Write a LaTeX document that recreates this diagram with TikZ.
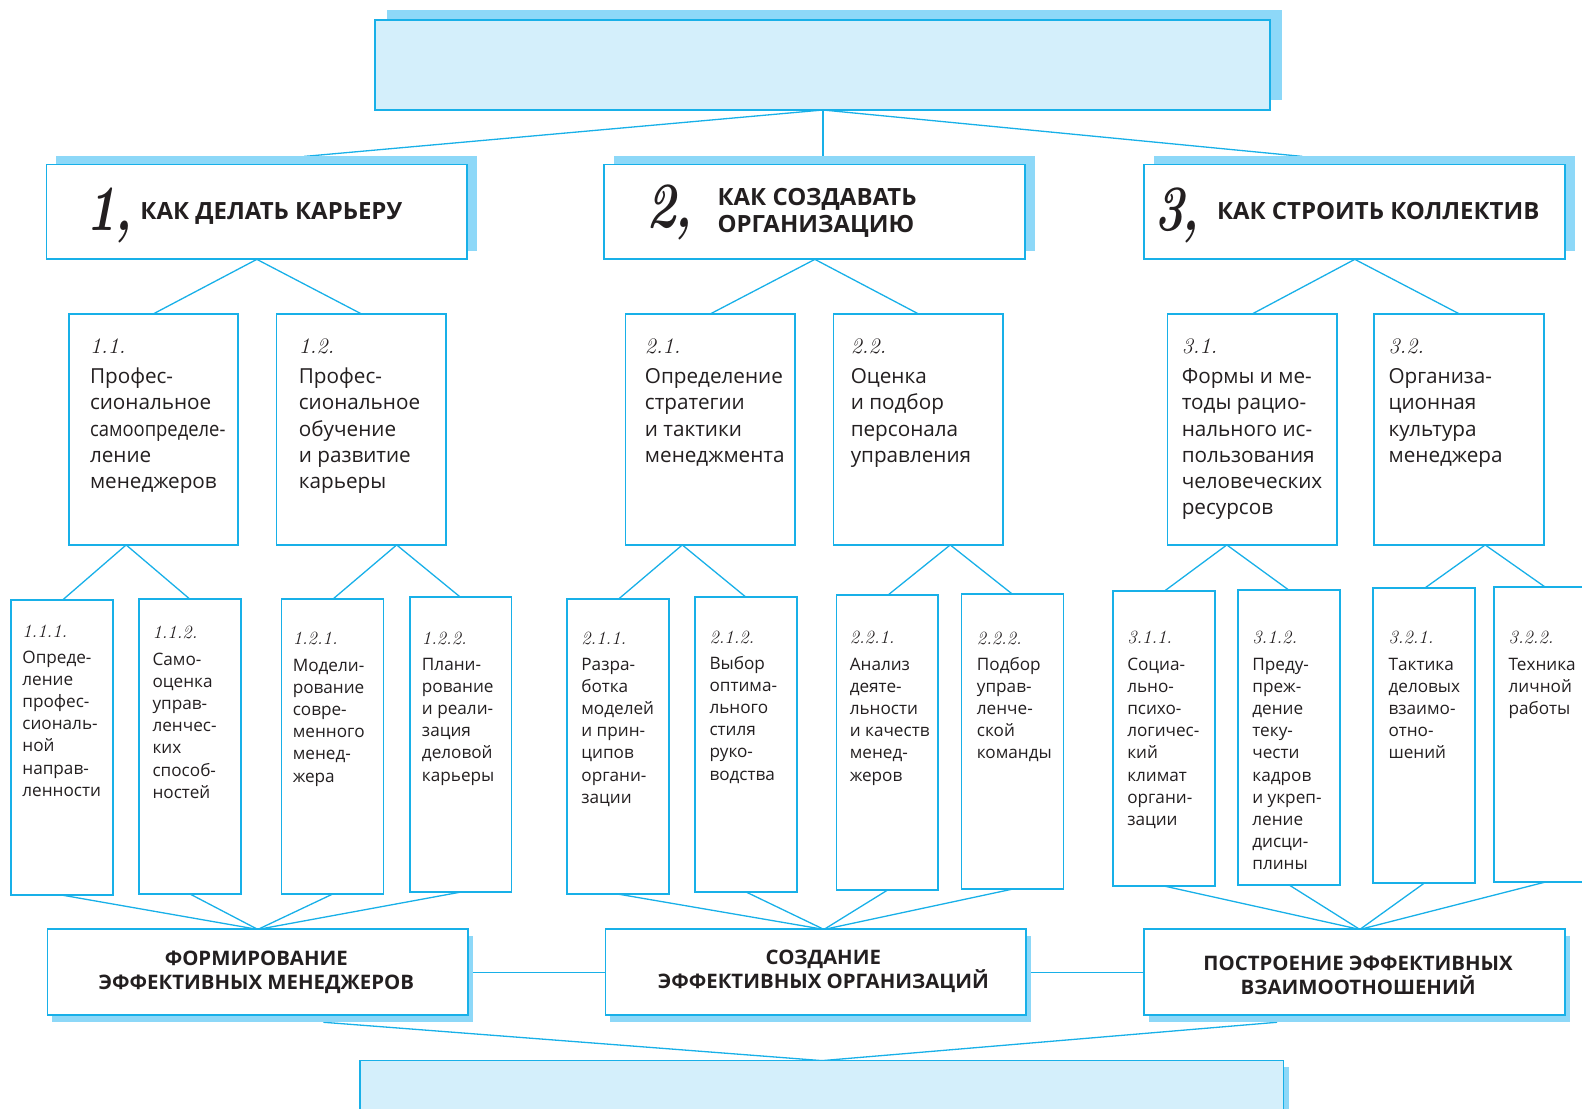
\documentclass[tikz,border=0pt]{standalone}
\usepackage{fontspec}
\usepackage{graphicx}
\usetikzlibrary{calc,shadows}
\newfontfamily\bodyfont{Open Sans}
\newfontfamily\headfont{Open Sans}[FakeStretch=1.01]
\newfontfamily\capfont{Open Sans}[FakeStretch=1.02]
\definecolor{cyanline}{RGB}{24,176,232}
\definecolor{lightfill}{RGB}{212,239,251}
\definecolor{shadowblue}{RGB}{141,216,248}
\definecolor{ink}{RGB}{35,31,32}
\pgfdeclarelayer{bg}
\pgfsetlayers{bg,main}
\tikzset{
  frame/.style={draw=cyanline, line width=1.8pt, fill=white, inner sep=0pt, outer sep=0pt, anchor=north west},
  topshadow/.style={general shadow={fill=shadowblue, shadow xshift=12pt, shadow yshift=10pt}},
  headshadow/.style={general shadow={fill=shadowblue, shadow xshift=10pt, shadow yshift=8pt}},
  footshadow/.style={general shadow={fill=shadowblue, shadow xshift=5pt, shadow yshift=-7pt}},
  finshadow/.style={general shadow={fill=shadowblue, shadow xshift=6pt, shadow yshift=-7pt}},
  headbox/.style={frame, headshadow, minimum width=417pt, minimum height=94pt},
  midbox/.style={frame, minimum width=168pt, minimum height=229pt},
  leafbox/.style={frame, minimum width=101pt, minimum height=292pt},
  footbox/.style={frame, footshadow, minimum width=417pt, minimum height=85pt},
  link/.style={draw=cyanline, line width=1.3pt},
  bignum/.style={inner sep=0pt, anchor=base west, text=ink, font=\rmfamily\bfseries\itshape\fontsize{64}{64}\selectfont},
  headtxt/.style={inner sep=0pt, text=ink, align=left, font=\headfont\bfseries\fontsize{23.5}{27}\selectfont},
  foottxt/.style={inner sep=0pt, text=ink, align=center, anchor=north, font=\capfont\bfseries\fontsize{19.8}{23}\selectfont},
  midnum/.style={inner sep=0pt, anchor=base west, text=ink, font=\rmfamily\itshape\fontsize{22}{22}\selectfont},
  midtxt/.style={inner sep=0pt, anchor=north west, align=left, text=ink, font=\bodyfont\fontsize{20.5}{26}\selectfont},
  leafnum/.style={inner sep=0pt, anchor=base west, text=ink, font=\rmfamily\itshape\fontsize{18.5}{18.5}\selectfont},
  leaftxt/.style={inner sep=0pt, anchor=north west, align=left, text=ink, font=\bodyfont\fontsize{17}{22}\selectfont},
}
\newcommand\BigNum[1]{\scalebox{0.78}[1]{#1\kern-3pt,}}
% #1 name, #2 x, #3 text x offset, #4 number, #5 text
\newcommand\MidBox[5]{%
  \node[midbox] (#1) at (#2,311) {};%
  \node[midnum] (#1n) at (#2+#3,350) {#4};%
  \node[midtxt] (#1t) at (#2+#3,363) {\rule{0pt}{17pt}#5};%
}
% #1 name, #2 x, #3 y, #4 number baseline, #5 first text baseline, #6 x offset, #7 number, #8 text
\newcommand\LeafBox[8]{%
  \node[leafbox] (#1) at (#2,#3) {};%
  \node[leafnum] (#1n) at (#2+#6,#4) {#7};%
  \node[leaftxt] (#1t) at (#2+#6,#5-14) {\rule{0pt}{14pt}#8};%
}
\begin{document}
\begin{tikzpicture}[x=1pt,y=-1pt,scale=1.009,every node/.append style={transform shape}]
% top box
\node[frame, fill=lightfill, topshadow, minimum width=887pt, minimum height=89pt] (top) at (372,20) {};

% level 1
\node[headbox] (h1) at (46,163) {};
\node[headbox] (h2) at (599,163) {};
\node[headbox] (h3) at (1134,163) {};
\node[bignum] (h1n) at (86,228) {\BigNum{1}};
\node[bignum] (h2n) at (641,225) {\BigNum{2}};
\node[bignum] (h3n) at (1144,228) {\BigNum{3}};
\node[headtxt, anchor=base west] (h1t) at (139,218) {КАК ДЕЛАТЬ КАРЬЕРУ};
\node[headtxt, anchor=north west] (h2t) at (711,184) {\rule{0pt}{19pt}КАК СОЗДАВАТЬ\\ОРГАНИЗАЦИЮ};
\node[headtxt, anchor=base west] (h3t) at (1206,218) {КАК СТРОИТЬ КОЛЛЕКТИВ};

% level 2
\MidBox{m11}{68}{21}{1.1.}{Профес-\\сиональное\\\scalebox{0.89}[1]{самоопределе-}\\ление\\менеджеров}
\MidBox{m12}{274}{22}{1.2.}{Профес-\\сиональное\\обучение\\и развитие\\карьеры}
\MidBox{m21}{620}{19}{2.1.}{Определение\\стратегии\\и тактики\\менеджмента}
\MidBox{m22}{826}{17}{2.2.}{Оценка\\и подбор\\персонала\\управления}
\MidBox{m31}{1157}{14}{3.1.}{Формы и ме-\\тоды рацио-\\нального ис-\\пользования\\человеческих\\ресурсов}
\MidBox{m32}{1362}{14}{3.2.}{Организа-\\ционная\\культура\\менеджера}

% level 3
\LeafBox{c111}{11}{595}{632}{657}{11}{1.1.1.}{Опреде-\\ление\\профес-\\сиональ-\\ной\\направ-\\ленности}
\LeafBox{c112}{138}{594}{633}{659}{13}{1.1.2.}{Само-\\оценка\\управ-\\ленчес-\\ких\\способ-\\ностей}
\LeafBox{c121}{279}{594}{639}{665}{11}{1.2.1.}{Модели-\\рование\\совре-\\менного\\менед-\\жера}
\LeafBox{c122}{406}{592}{639}{664}{12}{1.2.2.}{Плани-\\рование\\и реали-\\зация\\деловой\\карьеры}
\LeafBox{c211}{562}{594}{639}{664}{14}{2.1.1.}{Разра-\\ботка\\моделей\\и прин-\\ципов\\органи-\\зации}
\LeafBox{c212}{689}{592}{638}{663}{14}{2.1.2.}{Выбор\\оптима-\\льного\\стиля\\руко-\\водства}
\LeafBox{c221}{829}{590}{638}{664}{13}{2.2.1.}{Анализ\\деяте-\\льности\\и качеств\\менед-\\жеров}
\LeafBox{c222}{953}{589}{639}{664}{15}{2.2.2.}{Подбор\\управ-\\ленче-\\ской\\команды}
\LeafBox{c311}{1103}{586}{638}{664}{14}{3.1.1.}{Социа-\\льно-\\психо-\\логичес-\\кий\\климат\\органи-\\зации}
\LeafBox{c312}{1227}{585}{638}{664}{14}{3.1.2.}{Преду-\\преж-\\дение\\теку-\\чести\\кадров\\и укреп-\\ление\\дисци-\\плины}
\LeafBox{c321}{1361}{583}{638}{664}{15}{3.2.1.}{Тактика\\деловых\\взаимо-\\отно-\\шений}
\LeafBox{c322}{1481}{582}{638}{664}{14}{3.2.2.}{Техника\\личной\\работы}

% bottom row
\node[footbox] (f1) at (47,921) {};
\node[footbox] (f2) at (600,921) {};
\node[footbox] (f3) at (1134,921) {};
\node[foottxt] (f1t) at (254,941) {\rule{0pt}{16pt}ФОРМИРОВАНИЕ\\ЭФФЕКТИВНЫХ МЕНЕДЖЕРОВ};
\node[foottxt] (f2t) at (816,940) {\rule{0pt}{16pt}СОЗДАНИЕ\\ЭФФЕКТИВНЫХ ОРГАНИЗАЦИЙ};
\node[foottxt] (f3t) at (1346,946) {\rule{0pt}{16pt}ПОСТРОЕНИЕ ЭФФЕКТИВНЫХ\\ВЗАИМООТНОШЕНИЙ};

% final box
\node[frame, fill=lightfill, finshadow, minimum width=915pt, minimum height=80pt] (fin) at (357,1051) {};

% connectors
\begin{pgfonlayer}{bg}
\draw[link] (top.south) -- ($(h1.north)+(47,-8)$);
\draw[link] (top.south) -- (top.south |- h2.north);
\draw[link] (top.south) -- ($(h3.north)+(-52,-8)$);
\foreach \h/\a/\b in {h1/m11/m12, h2/m21/m22, h3/m31/m32}{%
  \draw[link] (\h.south) -- (\a.north);%
  \draw[link] (\h.south) -- (\b.north);%
}
\foreach \m/\a/\b in {m11/c111/c112, m12/c121/c122, m21/c211/c212, m22/c221/c222, m31/c311/c312, m32/c321/c322}{%
  \coordinate (mid\m) at ($(\a.north)!.5!(\b.north)$);%
  \draw[link] (mid\m |- \m.south) -- (\a.north);%
  \draw[link] (mid\m |- \m.south) -- (\b.north);%
}
\foreach \c in {c111,c112,c121,c122}{\draw[link] (\c.south) -- (f1.north);}
\foreach \c in {c211,c212,c221,c222}{\draw[link] (\c.south) -- ($(f2.north)+(8,0)$);}
\foreach \c in {c311,c312,c321,c322}{\draw[link] (\c.south) -- ($(f3.north)+(5,0)$);}
\draw[link] (f1.east) -- (f2.west);
\draw[link] (f2.east) -- (f3.west);
\draw[link] ($(f1.south)+(65,7)$) -- (fin.north);
\draw[link] ($(f3.south)+(-77,7)$) -- (fin.north);
\end{pgfonlayer}
\pgfresetboundingbox
\path[use as bounding box] (0,0) rectangle (1567.9,1099.1);
\end{tikzpicture}
\end{document}
